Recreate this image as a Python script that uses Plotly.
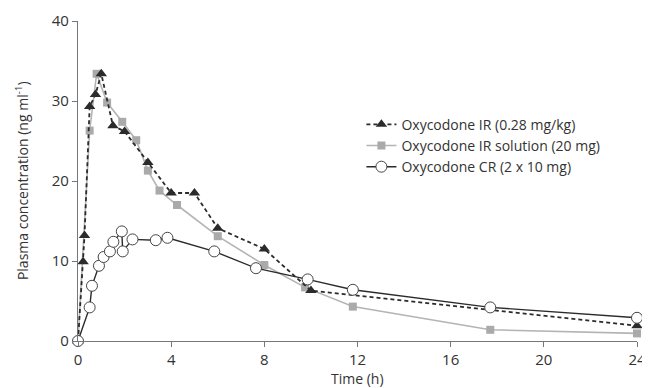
import plotly.graph_objects as go

# Oxycodone IR (0.28 mg/kg)
ir_time = [0, 0.22, 0.28, 0.5, 0.75, 1.0, 1.5, 2.0, 3.0, 4.0, 5.0, 6.0, 8.0, 10.0, 24.0]
ir_conc = [0, 9.9, 13.2, 29.3, 30.8, 33.4, 26.9, 26.2, 22.3, 18.5, 18.5, 14.1, 11.5, 6.3, 1.9]

# Oxycodone IR solution (20 mg)
sol_time = [0, 0.5, 0.8, 1.25, 1.9, 2.5, 3.0, 3.5, 4.25, 6.0, 8.0, 9.75, 11.8, 17.7, 24.0]
sol_conc = [0, 26.3, 33.4, 29.8, 27.4, 25.1, 21.3, 18.8, 17.0, 13.1, 9.5, 6.7, 4.3, 1.4, 0.95]

# Oxycodone CR (2 x 10 mg)
cr_time = [0, 0.5, 0.6, 0.9, 1.1, 1.37, 1.52, 1.88, 1.92, 2.34, 3.34, 3.84, 5.85, 7.64, 9.86, 11.8, 17.7, 24.0]
cr_conc = [0, 4.2, 6.9, 9.4, 10.5, 11.2, 12.4, 13.7, 11.2, 12.7, 12.6, 12.9, 11.2, 9.1, 7.7, 6.4, 4.2, 2.9]

x_ticks = [0, 4, 8, 12, 16, 20, 24]
y_ticks = [0, 10, 20, 30, 40]

FONT = "Open Sans"
DARK = "#2b2b2b"
LIGHT = "#b4b4b4"
TXT = "#333333"

fig = go.Figure()
fig.add_trace(go.Scatter(
    x=sol_time, y=sol_conc, mode="lines+markers",
    name="Oxycodone IR solution (20 mg)",
    line=dict(color=LIGHT, width=1.6),
    marker=dict(symbol="square", size=8, color="#aaaaaa"),
    cliponaxis=False, legendrank=2,
))
fig.add_trace(go.Scatter(
    x=ir_time, y=ir_conc, mode="lines+markers",
    name="Oxycodone IR (0.28 mg/kg)",
    line=dict(color=DARK, width=1.8, dash="4px,3px"),
    marker=dict(symbol="triangle-up", size=10, color=DARK),
    cliponaxis=False, legendrank=1,
))
fig.add_trace(go.Scatter(
    x=cr_time, y=cr_conc, mode="lines+markers",
    name="Oxycodone CR (2 x 10 mg)",
    line=dict(color=DARK, width=1.4),
    marker=dict(symbol="circle", size=11, color="white", line=dict(color="#444444", width=1)),
    cliponaxis=False, legendrank=3,
))

fig.update_layout(
    width=650, height=388,
    margin=dict(l=70, r=21, t=13, b=55),
    paper_bgcolor="white", plot_bgcolor="white",
    font=dict(family=FONT, size=14, color=TXT),
    showlegend=True,
    legend=dict(
        x=0.507, y=0.726, xanchor="left", yanchor="top",
        font=dict(family=FONT, size=14, color=TXT),
        bgcolor="rgba(255,255,255,0)",
        itemwidth=30, tracegroupgap=0,
    ),
    annotations=[
        dict(text="Time (h)", x=0.5, y=-0.116, xref="paper", yref="paper",
             xanchor="center", yanchor="middle", showarrow=False,
             font=dict(size=14, color=TXT)),
        dict(text="Plasma concentration (ng ml<sup>-1</sup>)", x=-0.100, y=0.5,
             xref="paper", yref="paper", xanchor="center", yanchor="middle",
             textangle=-90, showarrow=False, font=dict(size=14, color=TXT)),
    ],
)

fig.update_xaxes(
    range=[0, 24], tickvals=x_ticks, ticktext=[str(v) for v in x_ticks],
    showgrid=False, zeroline=False, showline=True, linecolor="#777777", linewidth=1.2,
    ticks="outside", ticklen=5, tickcolor="#777777", automargin=False,
    tickfont=dict(size=15, color=TXT),
)
fig.update_yaxes(
    range=[0, 40], tickvals=y_ticks, ticktext=[str(v) for v in y_ticks],
    showgrid=False, zeroline=False, showline=True, linecolor="#777777", linewidth=1.2,
    ticks="outside", ticklen=5, tickcolor="#777777", automargin=False,
    tickfont=dict(size=15, color=TXT),
)

fig.write_html("out.html")
